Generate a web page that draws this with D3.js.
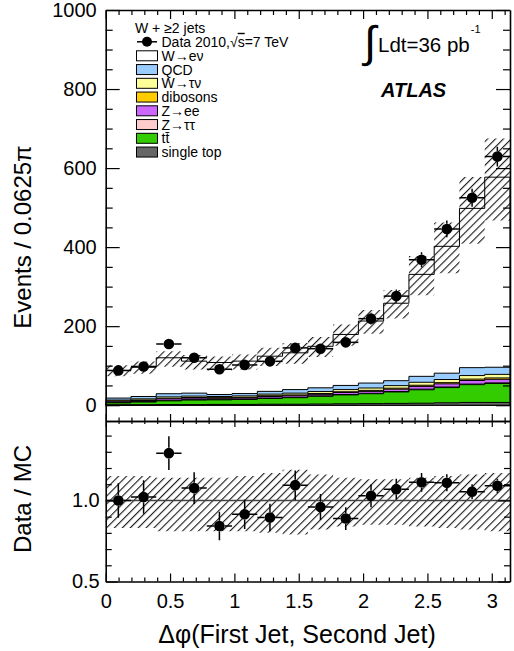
<!DOCTYPE html>
<html><head><meta charset="utf-8">
<script src="https://cdn.jsdelivr.net/npm/d3@7"></script>
<style>
body{margin:0;background:#fff}
svg{display:block}
text{font-family:"Liberation Sans",Arial,Helvetica,sans-serif;fill:#000}
</style>
</head><body>
<svg id="chart" width="514" height="651"></svg>
<script>
// ---------------- data ----------------
const nBins = 16;                       // bins of 0.0625*pi in [0, pi]
const dataCounts = [88, 98, 155, 120, 91, 102, 111, 145, 143, 159, 219, 276, 368, 446, 525, 629];
const wenu      = [70, 74, 91, 81, 81, 82, 89, 93, 105, 129, 157, 196, 258, 321, 403, 481];
const qcd       = [5, 6, 8, 7.5, 5, 6, 7, 9, 9.5, 10.5, 12.5, 12.5, 15, 16, 20, 18];
const wtaunu    = [2, 3, 3.5, 3.5, 3, 3.5, 4, 4.5, 5, 5.5, 6, 6.5, 7.5, 8, 9, 9];
const dibosons  = [1, 1, 1.5, 1.5, 1.5, 1.5, 2, 2, 2, 2, 2.5, 2.5, 3, 3, 3.5, 3.5];
const zee       = [3, 3, 4, 4, 3, 3, 4, 4, 4, 5, 5, 6, 7, 8, 9, 9];
const ztautau   = [1, 1, 1, 1, 1, 1, 1, 1, 1, 1, 1, 1, 1.5, 1.5, 1.5, 1.5];
const ttbar     = [5, 7, 9.5, 11.5, 11.5, 12.5, 14.5, 16.5, 19.5, 22.5, 25, 29, 34, 38.5, 45, 48];
const singletop = [1, 1, 1.5, 1.5, 2, 2, 2.5, 2.5, 3, 3.5, 4, 4.5, 5, 6, 7, 7];
const sysUp     = [0.15, 0.15, 0.14, 0.14, 0.14, 0.15, 0.17, 0.19, 0.16, 0.14, 0.13, 0.13, 0.14, 0.15, 0.16, 0.17];
const sysDown   = [0.17, 0.17, 0.19, 0.19, 0.19, 0.19, 0.20, 0.21, 0.18, 0.16, 0.15, 0.15, 0.16, 0.17, 0.18, 0.19];

const legendNames  = ["W\u2192e\u03bd", "QCD", "W\u2192\u03c4\u03bd", "dibosons", "Z\u2192ee", "Z\u2192\u03c4\u03c4", "tt\u0304", "single top"];
const legendColors = ["#ffffff", "#99ccff", "#ffff99", "#ffcc00", "#cc66ff", "#ffcccc", "#33cc00", "#666666"];
// stack order top -> bottom matches legend order
const stackSeries  = [wenu, qcd, wtaunu, dibosons, zee, ztautau, ttbar, singletop];

const mainYTicks  = [0, 200, 400, 600, 800, 1000];
const ratioYTicks = [0.5, 1.0];
const xTicks      = [0, 0.5, 1, 1.5, 2, 2.5, 3];

// ---------------- layout ----------------
const svg = d3.select("#chart");
const L = 105.7, R = 510, T = 10, MB = 421, RB = 581.5;
const x = d3.scaleLinear().domain([0, Math.PI]).range([L, R]);
const y = d3.scaleLinear().domain([-40, 1000]).range([MB, T]);
const yr = d3.scaleLinear().domain([0.5, 1.49]).range([RB, MB]);
const binW = Math.PI / nBins;
const edges = d3.range(nBins + 1).map(i => i * binW);
const centers = d3.range(nBins).map(i => (i + 0.5) * binW);

// cumulative stack (bottom -> top)
const nS = stackSeries.length;
const cum = [];
for (let k = nS - 1; k >= 0; k--) {
  cum[k] = stackSeries[k].map((v, i) => v + (k < nS - 1 ? cum[k + 1][i] : 0));
}
const mcTotal = cum[0];

const defs = svg.append("defs");
defs.append("clipPath").attr("id", "clipMain").append("rect")
  .attr("x", L).attr("y", T).attr("width", R - L).attr("height", MB - T);
defs.append("clipPath").attr("id", "clipRatio").append("rect")
  .attr("x", L).attr("y", MB).attr("width", R - L).attr("height", RB - MB);
const pat = defs.append("pattern").attr("id", "hatch").attr("patternUnits", "userSpaceOnUse")
  .attr("width", 5.6).attr("height", 5.6).attr("patternTransform", "rotate(45)");
pat.append("line").attr("x1", 0.6).attr("y1", 0).attr("x2", 0.6).attr("y2", 5.6)
  .attr("stroke", "#000").attr("stroke-width", 1.0);

function stepPts(lo, hi) {
  const pts = [];
  for (let i = 0; i < nBins; i++) {
    pts.push({x: edges[i], lo: lo[i], hi: hi[i]});
    pts.push({x: edges[i + 1], lo: lo[i], hi: hi[i]});
  }
  return pts;
}

// ---------------- main panel ----------------
const gm = svg.append("g").attr("clip-path", "url(#clipMain)");
const zeros = d3.range(nBins).map(() => 0);
const areaMain = d3.area().x(d => x(d.x)).y0(d => y(d.lo)).y1(d => y(d.hi));
cum.forEach((c, k) => {
  gm.append("path").attr("d", areaMain(stepPts(zeros, c)))
    .attr("fill", legendColors[k]).attr("stroke", "#000").attr("stroke-width", 1);
});
// uncertainty band
const bandLo = mcTotal.map((v, i) => v * (1 - sysDown[i]));
const bandHi = mcTotal.map((v, i) => v * (1 + sysUp[i]));
gm.append("path").attr("d", areaMain(stepPts(bandLo, bandHi))).attr("fill", "url(#hatch)");

const mr = 5.3;
function drawPoints(g, ys, vals, errs) {
  vals.forEach((v, i) => {
    const cx = x(centers[i]), cy = ys(v);
    const x0 = x(edges[i]), x1 = x(edges[i + 1]);
    const yHi = ys(v + errs[i]), yLo = ys(v - errs[i]);
    const segs = [[x0, cy, cx - mr, cy], [cx + mr, cy, x1, cy]];
    if (cy - yHi > mr) segs.push([cx, cy - mr, cx, yHi]);
    if (yLo - cy > mr) segs.push([cx, cy + mr, cx, yLo]);
    segs.forEach(s => g.append("line").attr("x1", s[0]).attr("y1", s[1]).attr("x2", s[2]).attr("y2", s[3])
      .attr("stroke", "#000").attr("stroke-width", 1.5));
    g.append("circle").attr("cx", cx).attr("cy", cy).attr("r", mr).attr("fill", "#000");
  });
}
drawPoints(gm, y, dataCounts, dataCounts.map(v => Math.sqrt(v)));

// ---------------- ratio panel ----------------
const gr = svg.append("g").attr("clip-path", "url(#clipRatio)");
const areaRatio = d3.area().x(d => x(d.x)).y0(d => yr(d.lo)).y1(d => yr(d.hi));
gr.append("path").attr("d", areaRatio(stepPts(sysDown.map(d => 1 - d), sysUp.map(d => 1 + d))))
  .attr("fill", "url(#hatch)");
gr.append("line").attr("x1", L).attr("x2", R).attr("y1", yr(1)).attr("y2", yr(1))
  .attr("stroke", "#444").attr("stroke-width", 1.5);
const ratio = dataCounts.map((v, i) => v / mcTotal[i]);
drawPoints(gr, yr, ratio, dataCounts.map((v, i) => Math.sqrt(v) / mcTotal[i]));

// ---------------- axes ----------------
function minorVals(domain, step, majors) {
  const out = [];
  const n0 = Math.ceil(domain[0] / step - 1e-9), n1 = Math.floor(domain[1] / step + 1e-9);
  for (let n = n0; n <= n1; n++) {
    const v = +(n * step).toFixed(6);
    if (!majors.some(m => Math.abs(m - v) < 1e-6)) out.push(v);
  }
  return out;
}
function axis(gen, scale, transform, majors, minors, majLen, minLen, labels, pad, fontSize) {
  const gMin = svg.append("g").attr("transform", transform)
    .call(gen(scale).tickValues(minors).tickSizeInner(-minLen).tickSizeOuter(0).tickFormat(""));
  gMin.select(".domain").remove();
  gMin.selectAll("line").attr("stroke", "#000").attr("stroke-width", 1.2);
  const gMaj = svg.append("g").attr("transform", transform)
    .call(gen(scale).tickValues(majors).tickSizeInner(-majLen).tickSizeOuter(0).tickPadding(pad)
      .tickFormat(labels ? labels : ""));
  gMaj.selectAll("line").attr("stroke", "#000").attr("stroke-width", 1.2);
  gMaj.select(".domain").attr("stroke", "#000").attr("stroke-width", 1.6);
  gMaj.selectAll("text").attr("font-size", fontSize).attr("font-family", "'Liberation Sans',Arial,sans-serif").attr("fill", "#000");
  return gMaj;
}
const xMinor = minorVals([0, Math.PI], 0.1, xTicks);
// main
axis(d3.axisLeft, y, `translate(${L},0)`, mainYTicks, minorVals([-40, 1000], 50, mainYTicks), 14, 7, d3.format("d"), 9, 20);
axis(d3.axisRight, y, `translate(${R},0)`, mainYTicks, minorVals([-40, 1000], 50, mainYTicks), 14, 7, null, 0, 0);
axis(d3.axisTop, x, `translate(0,${T})`, xTicks, xMinor, 9, 5, null, 0, 0);
axis(d3.axisBottom, x, `translate(0,${MB})`, xTicks, xMinor, 7, 3.5, null, 0, 0);
// ratio
axis(d3.axisTop, x, `translate(0,${MB})`, xTicks, xMinor, 6, 3, null, 0, 0);
axis(d3.axisBottom, x, `translate(0,${RB})`, xTicks, xMinor, 8, 4, d3.format(""), 12, 20);
const rMinor = minorVals([0.5, 1.49], 0.1, ratioYTicks);
axis(d3.axisLeft, yr, `translate(${L},0)`, ratioYTicks, rMinor, 12, 6, d3.format(".1f"), 6, 20);
axis(d3.axisRight, yr, `translate(${R},0)`, ratioYTicks, rMinor, 12, 6, null, 0, 0);

// ---------------- titles ----------------
svg.append("text").attr("transform", "translate(31,237) rotate(-90)").attr("text-anchor", "middle")
  .attr("font-size", 24).text("Events / 0.0625\u03c0");
svg.append("text").attr("transform", "translate(31,499) rotate(-90)").attr("text-anchor", "middle")
  .attr("font-size", 24).text("Data / MC");
svg.append("text").attr("x", 297).attr("y", 643).attr("text-anchor", "middle")
  .attr("font-size", 25).text("\u0394\u03c6(First Jet, Second Jet)");

// ---------------- legend ----------------
const lg = svg.append("g").attr("font-size", 14);
lg.append("text").attr("x", 135).attr("y", 33).attr("font-size", 14).text("W + \u22652 jets");
lg.append("line").attr("x1", 137).attr("x2", 157).attr("y1", 41.8).attr("y2", 41.8).attr("stroke", "#000").attr("stroke-width", 1.5);
lg.append("circle").attr("cx", 147).attr("cy", 41.8).attr("r", 5).attr("fill", "#000");
const dt = lg.append("text").attr("x", 161.5).attr("y", 46.8).attr("font-size", 14);
dt.append("tspan").text("Data 2010,\u221a");
dt.append("tspan").style("text-decoration", "overline").text("s");
dt.append("tspan").text("=7 TeV");
legendNames.forEach((name, k) => {
  const cy = 55.8 + k * 13.75;
  lg.append("rect").attr("x", 136.5).attr("y", cy - 5).attr("width", 21).attr("height", 10)
    .attr("fill", legendColors[k]).attr("stroke", "#000").attr("stroke-width", 1);
  lg.append("text").attr("x", 161.5).attr("y", cy + 5).attr("font-size", 14).text(name);
});

// ---------------- labels ----------------
svg.append("text").attr("x", 364).attr("y", 57).attr("font-size", 44).attr("font-family", "'DejaVu Sans',sans-serif").text("\u222b");
const lum = svg.append("text").attr("x", 378).attr("y", 52).attr("font-size", 20.5);
lum.append("tspan").text("Ldt=36 pb");
lum.append("tspan").attr("font-size", 11).attr("dy", -19).attr("dx", 1).text("-1");
svg.append("text").attr("x", 381).attr("y", 96.5).attr("font-size", 20).attr("font-weight", "bold")
  .attr("font-style", "italic").text("ATLAS");
</script>
</body></html>
